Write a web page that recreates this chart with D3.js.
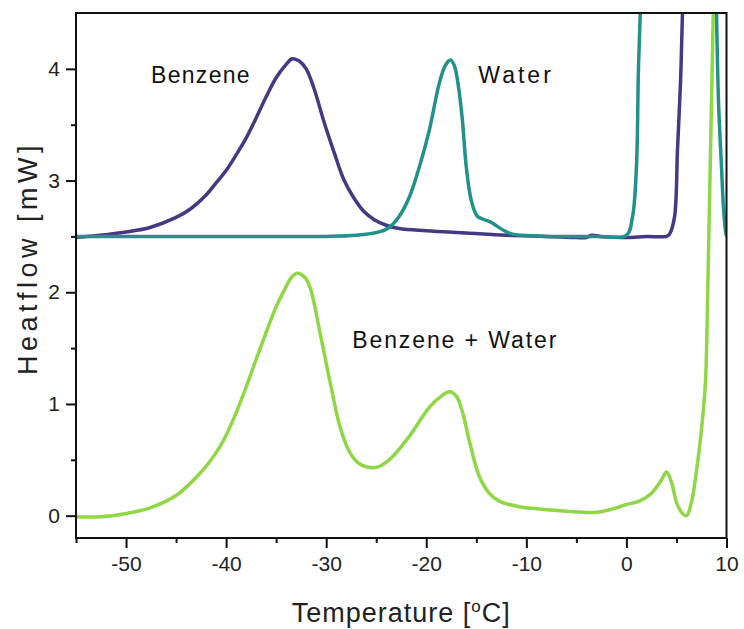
<!DOCTYPE html>
<html>
<head>
<meta charset="utf-8">
<script src="https://cdn.jsdelivr.net/npm/d3@7"></script>
<style>
  html, body { margin: 0; padding: 0; background: #fff; }
  svg { display: block; font-family: "Liberation Sans", Arial, sans-serif; }
</style>
</head>
<body>
<svg id="chart" width="744" height="629"></svg>
<script>
// ---- data ----
const xTicks = [-50, -40, -30, -20, -10, 0, 10];
const xMinorTicks = [-55, -45, -35, -25, -15, -5, 5];
const yTicks = [0, 1, 2, 3, 4];
const yMinorTicks = [0.5, 1.5, 2.5, 3.5];

const benzeneT = [-55, -52.6, -50, -47.6, -45, -43.5, -42, -41, -40, -39, -38, -37, -36, -35, -34, -33.4, -32.7, -32, -31.2, -30.2, -29.2, -28.2, -27.2, -26.2, -25.2, -24, -22.7, -20, -16, -12, -8, -5, -4, -3.5, -2.5, 0, 2, 4, 4.3, 4.8, 5.1, 5.4, 5.6, 5.8];
const benzeneV = [2.49, 2.51, 2.54, 2.58, 2.67, 2.75, 2.87, 2.98, 3.09, 3.23, 3.38, 3.56, 3.75, 3.92, 4.04, 4.09, 4.07, 4.0, 3.82, 3.52, 3.25, 3.0, 2.84, 2.72, 2.65, 2.6, 2.57, 2.55, 2.53, 2.51, 2.5, 2.49, 2.49, 2.51, 2.5, 2.49, 2.5, 2.5, 2.52, 2.67, 3.27, 3.87, 4.5, 5.3];

const waterT = [-55, -45, -35, -30, -27, -24.7, -23.7, -22.7, -21.7, -20.7, -19.7, -18.7, -18.1, -17.6, -17.2, -16.8, -16.4, -16.0, -15.5, -14.9, -14.2, -13.6, -12.9, -12.2, -11.4, -10.5, -8, -5, -3, 0, 0.6, 1.0, 1.2, 1.4, 1.6, 8.8, 9.0, 9.2, 9.5, 9.7, 9.9, 10];
const waterV = [2.5, 2.5, 2.5, 2.5, 2.51, 2.54, 2.58, 2.68, 2.85, 3.12, 3.45, 3.87, 4.03, 4.08, 4.03, 3.85, 3.55, 3.12, 2.82, 2.68, 2.65, 2.63, 2.59, 2.55, 2.52, 2.51, 2.5, 2.5, 2.5, 2.51, 2.67, 3.12, 4.0, 4.55, 5.5, 5.5, 4.5, 3.71, 3.12, 2.76, 2.55, 2.5];

const mixT = [-55, -52.6, -50, -47.6, -45, -42.6, -41.5, -40.6, -40, -39, -38, -37, -36, -35, -34, -33.5, -32.9, -32.2, -31.6, -30.6, -29.6, -28.6, -27.6, -26.6, -25.1, -23.7, -21.7, -19.7, -18.5, -17.7, -17.0, -16.3, -15.7, -14.7, -13.7, -12.7, -10.7, -8.7, -6, -3, -1, 0, 1.3, 2.5, 3.5, 4.0, 4.5, 5.0, 5.5, 6.0, 6.5, 7.0, 7.5, 7.9, 8.1, 8.3, 8.5, 8.7, 8.9];
const mixV = [-0.01, -0.01, 0.02, 0.07, 0.18, 0.38, 0.5, 0.62, 0.72, 0.92, 1.15, 1.4, 1.64, 1.87, 2.05, 2.13, 2.17, 2.14, 2.04, 1.63, 1.19, 0.79, 0.56, 0.46, 0.43, 0.5, 0.71, 0.97, 1.07, 1.11, 1.07, 0.9, 0.67, 0.35, 0.2, 0.13, 0.08, 0.06, 0.04, 0.03, 0.07, 0.1, 0.13, 0.2, 0.32, 0.39, 0.3, 0.12, 0.03, 0.0, 0.12, 0.4, 0.77, 1.2, 1.9, 2.8, 3.7, 4.6, 5.5];

const seriesNames = ["Benzene", "Water", "Benzene + Water"];
const seriesColors = ["#443983", "#21918c", "#8fd744"];

// ---- layout ----
const svg = d3.select("#chart");
const mLeft = 76, mRight = 726.5, mTop = 13, mBottom = 538;

const x = d3.scaleLinear().domain([-55, 10]).range([mLeft, mRight]);
const y = d3.scaleLinear().domain([-0.2, 4.5]).range([mBottom, mTop]);

svg.append("defs").append("clipPath").attr("id", "plotclip")
  .append("rect").attr("x", mLeft).attr("y", mTop)
  .attr("width", mRight - mLeft).attr("height", mBottom - mTop);

const line = d3.line()
  .x(d => x(d[0])).y(d => y(d[1]))
  .curve(d3.curveCatmullRom.alpha(0.5));

const series = [
  { name: seriesNames[0], T: benzeneT, V: benzeneV, color: seriesColors[0] },
  { name: seriesNames[1], T: waterT, V: waterV, color: seriesColors[1] },
  { name: seriesNames[2], T: mixT, V: mixV, color: seriesColors[2] }
];

const gLines = svg.append("g").attr("clip-path", "url(#plotclip)");
series.forEach(s => {
  gLines.append("path")
    .datum(s.T.map((t, i) => [t, s.V[i]]))
    .attr("fill", "none")
    .attr("stroke", s.color)
    .attr("stroke-width", 3.5)
    .attr("stroke-linejoin", "round")
    .attr("d", line);
});

// ---- axes ----
const axisColor = "#111";
const xAxis = d3.axisBottom(x).tickValues(xTicks).tickSize(10).tickPadding(8)
  .tickFormat(d => String(d));
const gx = svg.append("g").attr("transform", `translate(0,${mBottom})`).call(xAxis);
const xMinor = d3.axisBottom(x).tickValues(xMinorTicks).tickSize(5).tickFormat("");
const gxm = svg.append("g").attr("transform", `translate(0,${mBottom})`).call(xMinor);

const yAxis = d3.axisLeft(y).tickValues(yTicks).tickSize(10).tickPadding(6)
  .tickFormat(d => String(d));
const gy = svg.append("g").attr("transform", `translate(${mLeft},0)`).call(yAxis);
const yMinor = d3.axisLeft(y).tickValues(yMinorTicks).tickSize(5).tickFormat("");
const gym = svg.append("g").attr("transform", `translate(${mLeft},0)`).call(yMinor);

[gx, gxm, gy, gym].forEach(g => {
  g.select(".domain").remove();
  g.selectAll(".tick line").attr("stroke", axisColor).attr("stroke-width", 2);
  g.selectAll(".tick text").attr("fill", "#222")
    .style("font-family", '"Liberation Sans", Arial, sans-serif')
    .style("font-size", "21px");
});

// frame
svg.append("rect")
  .attr("x", mLeft).attr("y", mTop)
  .attr("width", mRight - mLeft).attr("height", mBottom - mTop)
  .attr("fill", "none").attr("stroke", axisColor).attr("stroke-width", 2);

// ---- axis titles ----
const xt = svg.append("text")
  .attr("x", (mLeft + mRight) / 2).attr("y", 622)
  .attr("text-anchor", "middle")
  .attr("fill", "#222")
  .style("font-size", "27px")
  .style("letter-spacing", "1px");
xt.append("tspan").text("Temperature [");
xt.append("tspan").text("o").attr("dy", -10).style("font-size", "17px");
xt.append("tspan").text("C]").attr("dy", 10);

svg.append("text")
  .attr("transform", `translate(37,${258}) rotate(-90)`)
  .attr("text-anchor", "middle")
  .attr("fill", "#222")
  .style("font-size", "27px")
  .style("letter-spacing", "4.5px")
  .text("Heatflow [mW]");

// ---- curve labels ----
const labels = [
  { text: seriesNames[0], T: -47.5, v: 3.87, ls: 1.3 },
  { text: seriesNames[1], T: -14.8, v: 3.87, ls: 3 },
  { text: seriesNames[2], T: -27.4, v: 1.5, ls: 1.9 }
];
labels.forEach(l => {
  svg.append("text")
    .attr("x", x(l.T)).attr("y", y(l.v))
    .attr("fill", "#111")
    .style("font-size", "23px")
    .style("letter-spacing", l.ls + "px")
    .text(l.text);
});
</script>
</body>
</html>
